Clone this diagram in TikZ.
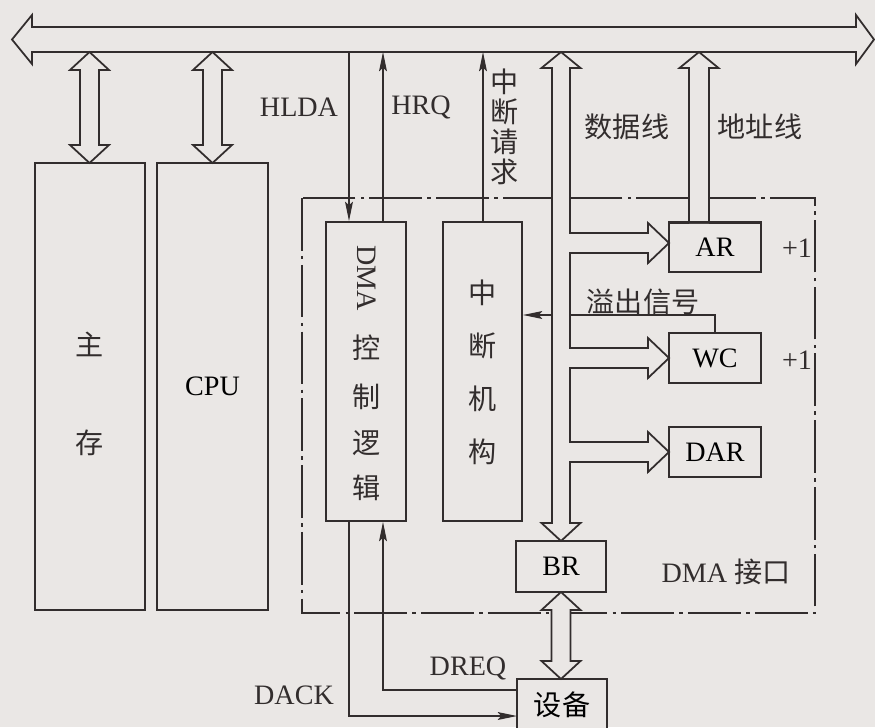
\documentclass[tikz,border=0pt]{standalone}
\usepackage{fontspec}
\setmainfont{Liberation Serif}
\newfontfamily\cjk{Noto Sans CJK SC}
\usetikzlibrary{arrows.meta}

\definecolor{bg}{RGB}{234,231,229}
\definecolor{ink}{RGB}{50,45,45}

\tikzset{
  sig/.style={draw=ink, line width=0.7pt},
  arr/.style={sig, -{Stealth[length=11pt,width=4.5pt,inset=2pt]}},
  wide/.style={draw=ink, fill=bg, line width=1pt, line join=miter},
  box/.style 2 args={draw=ink, fill=bg, line width=1.1pt, inner sep=0pt,
    minimum width=#1*0.02cm, minimum height=#2*0.02cm},
  lbl/.style={text=ink, inner sep=0pt},
  dashdot/.style={draw=ink, line width=0.7pt, dash pattern=on 30pt off 3pt on 2pt off 3pt}
}

% hollow up/down arrow between two tips
\newcommand{\vdblarrow}[3]{%
  \draw[wide] (#1,#2) -- ++(19.5,18) -- ++(-10,0) -- (#1+9.5,#3-18) -- ++(10,0)
    -- (#1,#3) -- ++(-19.5,-18) -- ++(10,0) -- (#1-9.5,#2+18) -- ++(-10,0) -- cycle;}

\begin{document}
\begin{tikzpicture}[x=0.02cm, y=-0.02cm, every node/.style={font=\fontsize{16}{19}\selectfont}]
	\fill[bg] (0,0) rectangle (875,727);
	\useasboundingbox (0,0) rectangle (875,727);

	% DMA interface frame
	\draw[dashdot] (302,198) rectangle (815,613);
	\node[lbl] (ifc) at (726,572) {DMA {\cjk 接口}};

	% boxes
	\node[box={110}{447}] (mem) at (90,386.5) {};
	\node[box={111}{447}] (cpu) at (212.5,386.5) {CPU};
	\node[box={80}{299}] (dmac) at (366,371.5) {};
	\node[box={79}{299}] (intr) at (482.5,371.5) {};
	\node[box={92}{49}] (ar) at (715,247.5) {AR};
	\node[box={92}{50}] (wc) at (715,358) {WC};
	\node[box={92}{50}] (dar) at (715,452) {DAR};
	\node[box={90}{51}] (br) at (561,566.5) {BR};
	\node[box={90}{52}] (dev) at (562,705) {\cjk 设备};

	\node[lbl] (m1) at (90,344) {\cjk 主};
	\node[lbl] (m2) at (90,443) {\cjk 存};
	\node[lbl, rotate=-90] (dmat) at (367,278) {DMA};
	\foreach \c/\y in {控/348, 制/397, 逻/443, 辑/488}
		\node[lbl] at (367,\y) {\cjk \c};
	\foreach \c/\y in {中/293, 断/346, 机/399, 构/452}
		\node[lbl] at (483,\y) {\cjk \c};

	% bus side signal lines
	\coordinate (hldaT) at (349,52);
	\coordinate (hrqT) at (383,52);
	\coordinate (irqT) at (483,52);
	\draw[arr] (hldaT) -- (hldaT |- dmac.north);
	\draw[arr] (hrqT |- dmac.north) -- (hrqT);
	\draw[arr] (irqT |- intr.north) -- (irqT);
	\node[lbl] (hlda) at (299,107) {HLDA};
	\node[lbl] (hrq) at (421,107) {HRQ};
	\node[lbl, align=center, font=\fontsize{16}{17}\selectfont\cjk] (irq) at (505,127) {中\\断\\请\\求};

	% overflow signal
	\draw[sig] (wc.north) |- (570,315);
	\draw[arr] (552,315) -- (intr.east |- 552,315);
	\node[lbl] (ovf) at (643,302) {\cjk 溢出信号};
	\node[lbl] (inc1) at (797,248) {+1};
	\node[lbl] (inc2) at (797,360) {+1};

	% device handshake
	\coordinate (dreqS) at (517,690);
	\coordinate (dackE) at (517,716);
	\draw[arr] (dreqS) -| (hrqT |- dmac.south);
	\draw[arr] (hldaT |- dmac.south) |- (dackE);
	\node[lbl] (dreq) at (468,668) {DREQ};
	\node[lbl] (dack) at (294,695) {DACK};

	% system bus
	\draw[wide] (12,39.5) -- (32,15) -- (32,27) -- (856,27) -- (856,15) -- (874,39.5)
		-- (856,64) -- (856,52) -- (32,52) -- (32,64) -- cycle;
	\vdblarrow{89.5}{52}{163}
	\vdblarrow{212.5}{52}{163}
	\vdblarrow{561}{592}{679}

	% data lines
	\draw[wide] (561,52) -- (580.5,68) -- (570,68) -- (570,233) -- (648,233) -- (648,223)
		-- (669,243) -- (648,263) -- (648,253) -- (570,253) -- (570,348) -- (648,348)
		-- (648,338) -- (669,358) -- (648,378) -- (648,368) -- (570,368) -- (570,442)
		-- (648,442) -- (648,432) -- (669,452) -- (648,472) -- (648,462) -- (570,462)
		-- (570,523) -- (580.5,523) -- (561,541) -- (541.5,523) -- (552,523) -- (552,68)
		-- (541.5,68) -- cycle;
	\node[lbl] (dat) at (627,127) {\cjk 数据线};

	% address lines
	\fill[bg] (689,223) -- (689,68) -- (679.5,68) -- (699,52) -- (718.5,68) -- (709,68) -- (709,223) -- cycle;
	\draw[wide, fill=none] (689,223) -- (689,68) -- (679.5,68) -- (699,52) -- (718.5,68) -- (709,68) -- (709,223);
	\node[lbl] (adr) at (760,127) {\cjk 地址线};
	\draw[draw=ink, line width=1.1pt] (ar.north west) -- (ar.north east);
\end{tikzpicture}
\end{document}
